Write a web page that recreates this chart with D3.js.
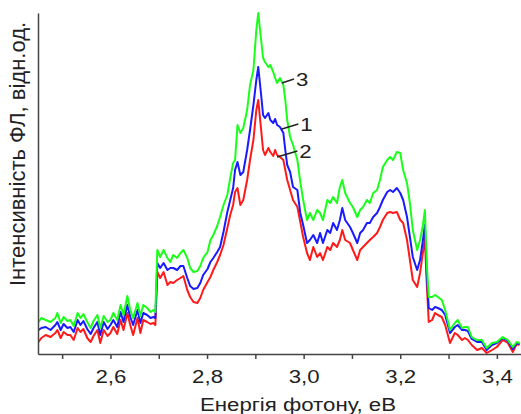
<!DOCTYPE html>
<html>
<head>
<meta charset="utf-8">
<script src="https://cdn.jsdelivr.net/npm/d3@7"></script>
<style>
  body { margin: 0; background: #fff; }
  svg { display: block; font-family: "Liberation Sans", Arial, sans-serif; }
</style>
</head>
<body>
<svg id="chart"></svg>
<script>
// photon energy, eV (sample positions)
const energy = [
  2.451, 2.457, 2.466, 2.476, 2.486, 2.490, 2.497, 2.503, 2.511, 2.517,
  2.524, 2.532, 2.538, 2.544, 2.552, 2.559, 2.565, 2.573, 2.579, 2.586,
  2.594, 2.600, 2.606, 2.614, 2.621, 2.627, 2.635, 2.641, 2.647, 2.656,
  2.662, 2.668, 2.676, 2.683, 2.689, 2.693, 2.697, 2.703, 2.710, 2.718,
  2.724, 2.730, 2.738, 2.745, 2.751, 2.759, 2.765, 2.772, 2.780, 2.786,
  2.792, 2.801, 2.807, 2.813, 2.821, 2.827, 2.834, 2.842, 2.848, 2.854,
  2.858, 2.863, 2.869, 2.875, 2.883, 2.889, 2.896, 2.902, 2.906, 2.912,
  2.916, 2.920, 2.927, 2.931, 2.937, 2.941, 2.945, 2.951, 2.958, 2.962,
  2.966, 2.972, 2.978, 2.987, 2.993, 2.999, 3.007, 3.013, 3.020, 3.028,
  3.034, 3.040, 3.049, 3.055, 3.061, 3.069, 3.075, 3.080, 3.086, 3.096,
  3.102, 3.111, 3.117, 3.123, 3.131, 3.137, 3.144, 3.152, 3.158, 3.164,
  3.173, 3.179, 3.185, 3.193, 3.200, 3.206, 3.214, 3.220, 3.226, 3.235,
  3.241, 3.247, 3.251, 3.255, 3.259, 3.266, 3.272, 3.278, 3.286, 3.293,
  3.303, 3.313, 3.319, 3.328, 3.334, 3.340, 3.348, 3.359, 3.369, 3.379,
  3.390, 3.400, 3.412, 3.423, 3.433, 3.441, 3.447
];

// PL intensity, arb. units — curve 1 (blue)
const curve1 = [
  24, 26, 27, 24, 29, 32, 24, 30, 26, 27,
  22, 34, 29, 33, 25, 20, 26, 32, 19, 32,
  25, 29, 34, 27, 42, 32, 49, 37, 29, 44,
  31, 41, 39, 36, 37, 36, 91, 86, 91, 84,
  86, 86, 84, 88, 88, 76, 68, 65, 66, 71,
  79, 85, 92, 96, 102, 107, 122, 142, 154, 166,
  184, 192, 179, 182, 204, 224, 249, 274, 287, 259,
  239, 236, 241, 234, 231, 235, 229, 227, 221, 204,
  189, 182, 167, 164, 141, 129, 111, 114, 119, 111,
  121, 111, 124, 121, 131, 124, 134, 146, 134, 127,
  121, 111, 121, 124, 131, 131, 137, 141, 147, 154,
  162, 164, 162, 166, 161, 154, 137, 117, 97, 84,
  94, 114, 129, 79, 46, 44, 47, 46, 44, 39,
  21, 27, 29, 24, 24, 23, 15, 12, 12, 4,
  9, 11, 16, 13, 5, 11, 10
];

// curve 2 (red)
const curve2 = [
  12, 16, 19, 17, 21, 24, 16, 22, 19, 19,
  14, 26, 22, 25, 16, 12, 18, 24, 11, 24,
  18, 21, 27, 20, 34, 24, 41, 29, 19, 36,
  21, 34, 32, 30, 31, 29, 82, 76, 82, 69,
  72, 71, 74, 76, 78, 64, 57, 52, 51, 56,
  64, 72, 77, 84, 92, 99, 109, 126, 139, 149,
  162, 166, 149, 154, 174, 194, 214, 244, 254, 224,
  204, 199, 206, 202, 198, 204, 199, 197, 194, 184,
  174, 164, 154, 147, 132, 117, 101, 94, 107, 97,
  101, 94, 107, 104, 111, 107, 114, 124, 114, 111,
  104, 94, 104, 107, 111, 114, 117, 121, 127, 134,
  141, 142, 141, 142, 134, 131, 114, 94, 74, 67,
  81, 102, 116, 69, 32, 34, 41, 39, 37, 29,
  11, 21, 19, 14, 16, 14, 9, 4, 6, 1,
  4, 7, 14, 11, 2, 10, 9
];

// curve 3 (green)
const curve3 = [
  32, 36, 34, 32, 36, 41, 31, 37, 33, 34,
  28, 41, 36, 40, 32, 26, 33, 39, 26, 38,
  32, 34, 41, 34, 49, 39, 58, 44, 36, 51,
  38, 49, 46, 42, 44, 42, 104, 97, 104, 96,
  92, 99, 96, 101, 104, 96, 86, 82, 83, 88,
  96, 102, 114, 119, 128, 137, 149, 159, 176, 191,
  194, 229, 221, 226, 244, 269, 284, 324, 341, 314,
  296, 292, 287, 289, 282, 276, 271, 276, 269, 254,
  234, 217, 209, 194, 172, 154, 134, 141, 134, 144,
  141, 134, 154, 151, 157, 151, 167, 174, 161, 151,
  147, 137, 144, 147, 154, 151, 161, 164, 174, 187,
  194, 197, 194, 202, 201, 184, 171, 151, 124, 104,
  114, 129, 144, 89, 57, 57, 59, 57, 54, 44,
  24, 31, 34, 26, 27, 27, 17, 14, 14, 6,
  11, 12, 17, 14, 7, 12, 11
];

const xTicks = [2.5, 2.6, 2.7, 2.8, 2.9, 3.0, 3.1, 3.2, 3.3, 3.4];
const xLabeled = [2.6, 2.8, 3.0, 3.2, 3.4];

// curve number labels with leader lines: [label, lineStartE, lineStartI, lineEndE, lineEndI]
const callouts = [
  ["3", 2.955, 271, 2.980, 275],
  ["1", 2.955, 225, 2.989, 230],
  ["2", 2.945, 197, 2.987, 203]
];

const W = 521, H = 414;
const margin = { top: 13, right: 0, bottom: 60, left: 38 };
const stretch = 1.17; // text in the picture is a little wider than tall

const svg = d3.select("#chart").attr("width", W).attr("height", H);

const x = d3.scaleLinear().domain([2.45, 3.45]).range([margin.left, W - margin.right]);
const y = d3.scaleLinear().domain([0, 341]).range([H - margin.bottom, margin.top]);

// curves
const line = d3.line()
  .x((d, i) => x(energy[i]))
  .y(d => y(d));

const series = [
  { values: curve2, color: "#ff1a1a" },
  { values: curve1, color: "#1a1aff" },
  { values: curve3, color: "#1aff1a" }
];

svg.append("g")
  .selectAll("path")
  .data(series)
  .join("path")
  .attr("d", d => line(d.values))
  .attr("fill", "none")
  .attr("stroke", d => d.color)
  .attr("stroke-width", 2)
  .attr("stroke-linejoin", "round");

// axes
const fmt = d3.format(".1f");
const xAxis = svg.append("g")
  .attr("transform", `translate(0,${H - margin.bottom})`)
  .call(d3.axisBottom(x)
    .tickValues(xTicks)
    .tickSizeInner(5)
    .tickSizeOuter(0)
    .tickPadding(11)
    .tickFormat(d => xLabeled.some(v => Math.abs(v - d) < 1e-9) ? fmt(d).replace(".", ",") : ""));
xAxis.selectAll("text")
  .style("font-size", "19px")
  .attr("fill", "#222")
  .attr("transform", `scale(${stretch},1)`);
xAxis.selectAll("line, path").attr("stroke", "#444").attr("stroke-width", 1.5);

const yAxis = svg.append("g")
  .attr("transform", `translate(${margin.left},0)`)
  .call(d3.axisLeft(y).tickValues([]).tickSizeOuter(0));
yAxis.select("path").attr("stroke", "#444").attr("stroke-width", 1.5);

// axis titles
svg.append("text")
  .attr("transform", `translate(298,411) scale(${stretch},1)`)
  .attr("text-anchor", "middle")
  .style("font-size", "19px")
  .attr("fill", "#222")
  .text("Енергія фотону, еВ");

svg.append("text")
  .attr("transform", "translate(25,154) rotate(-90)")
  .attr("text-anchor", "middle")
  .style("font-size", "22px")
  .attr("fill", "#222")
  .text("Інтенсивність ФЛ, відн.од.");

// curve number callouts
const co = svg.append("g");
co.selectAll("line")
  .data(callouts)
  .join("line")
  .attr("x1", d => x(d[1]))
  .attr("y1", d => y(d[2]))
  .attr("x2", d => x(d[3]))
  .attr("y2", d => y(d[4]))
  .attr("stroke", "#222")
  .attr("stroke-width", 1.5);

co.selectAll("text")
  .data(callouts)
  .join("text")
  .attr("transform", d => `translate(${x(d[3]) + 2},${y(d[4]) + 7}) scale(${stretch},1)`)
  .style("font-size", "19px")
  .attr("fill", "#222")
  .text(d => d[0]);
</script>
</body>
</html>
